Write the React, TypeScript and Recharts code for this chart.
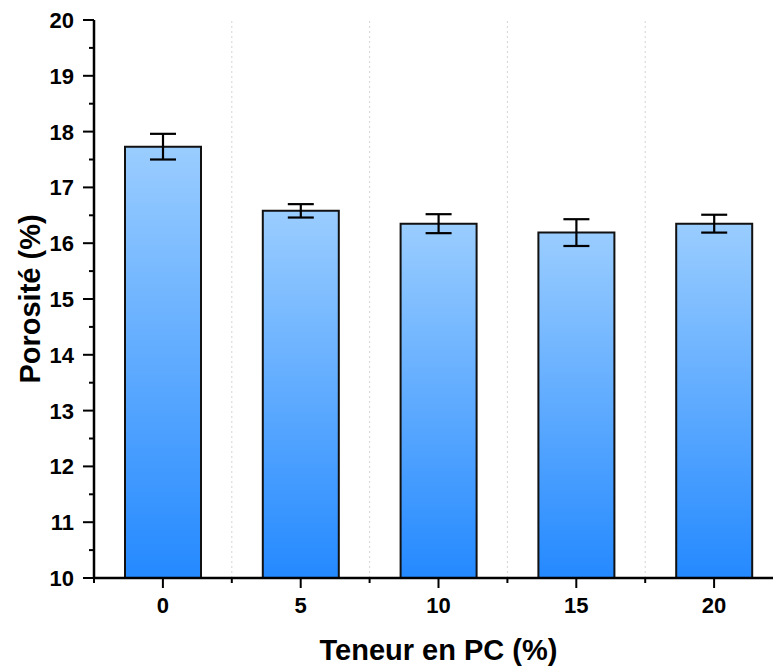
import React from 'react';
import { ComposedChart, Bar, XAxis, YAxis, ErrorBar, ReferenceLine, Label } from 'recharts';

// PC content (%) per sample
const contents = ['0', '5', '10', '15', '20'];
// Measured porosity (%) and its standard deviation
const porosity = [17.73, 16.58, 16.35, 16.19, 16.35];
const porosityErr = [0.23, 0.12, 0.17, 0.24, 0.16];

// Y axis: labelled integer ticks with half-step minor ticks
const yTicks = [10, 10.5, 11, 11.5, 12, 12.5, 13, 13.5, 14, 14.5, 15, 15.5, 16, 16.5, 17, 17.5, 18, 18.5, 19, 19.5, 20];
// X axis: category centres plus the boundaries between categories
const xTicks = [-0.5, 0, 0.5, 1, 1.5, 2, 2.5, 3, 3.5, 4];
const categoryBounds = [0.5, 1.5, 2.5, 3.5];

const rows = contents.map((c, i) => ({
  idx: i,
  content: c,
  porosity: porosity[i],
  err: porosityErr[i],
}));

const FONT = '"Liberation Sans", Arial, Helvetica, sans-serif';

const YTick = (props: any) => {
  const { x, y, payload } = props;
  const v = payload.value as number;
  const major = Number.isInteger(v);
  return (
    <g>
      <line x1={x} x2={x - (major ? 11 : 5)} y1={y} y2={y} stroke="#000" strokeWidth={2} />
      {major && (
        <text
          x={x - 20}
          y={y}
          dy="0.36em"
          textAnchor="end"
          fontFamily={FONT}
          fontWeight="bold"
          fontSize={22}
          fill="#000"
        >
          {v}
        </text>
      )}
    </g>
  );
};

const XTick = (props: any) => {
  const { x, y, payload } = props;
  const v = payload.value as number;
  const major = Number.isInteger(v);
  return (
    <g>
      <line x1={x} x2={x} y1={y} y2={y + (major ? 10 : 5)} stroke="#000" strokeWidth={2} />
      {major && (
        <text
          x={x}
          y={y + 35}
          textAnchor="middle"
          fontFamily={FONT}
          fontWeight="bold"
          fontSize={22}
          fill="#000"
        >
          {contents[v]}
        </text>
      )}
    </g>
  );
};

const YTitle = (props: any) => {
  const { viewBox } = props;
  const cx = viewBox.x + 30;
  const cy = viewBox.y + viewBox.height / 2;
  return (
    <text
      x={cx}
      y={cy}
      transform={`rotate(-90, ${cx}, ${cy})`}
      textAnchor="middle"
      dominantBaseline="central"
      fontFamily={FONT}
      fontWeight="bold"
      fontSize={29}
      fill="#000"
    >
      Porosité (%)
    </text>
  );
};

const XTitle = (props: any) => {
  const { viewBox } = props;
  const cx = viewBox.x + viewBox.width / 2;
  const cy = viewBox.y + 72;
  return (
    <text
      x={cx}
      y={cy}
      textAnchor="middle"
      dominantBaseline="central"
      fontFamily={FONT}
      fontWeight="bold"
      fontSize={29}
      fill="#000"
    >
      Teneur en PC (%)
    </text>
  );
};

export default function App() {
  return (
    <div
      style={{
        position: 'absolute',
        left: 0,
        top: 0,
        width: 773,
        height: 668,
        overflow: 'hidden',
        background: '#fff',
      }}
    >
      <svg width={0} height={0} style={{ position: 'absolute' }}>
        <defs>
          <linearGradient id="barFill" x1="0" y1="0" x2="0" y2="1">
            <stop offset="0" stopColor="#9ACDFF" />
            <stop offset="1" stopColor="#2489FF" />
          </linearGradient>
        </defs>
      </svg>
      <ComposedChart
        width={790}
        height={668}
        data={rows}
        margin={{ top: 20, right: 7, bottom: 0, left: 0 }}
      >
        {categoryBounds.map((b) => (
          <ReferenceLine
            key={b}
            x={b}
            stroke="#d4d4d4"
            strokeWidth={1}
            strokeDasharray="2 3"
          />
        ))}
        <XAxis
          dataKey="idx"
          type="number"
          domain={[-0.5, 4.5]}
          ticks={xTicks}
          allowDecimals
          interval={0}
          height={90}
          tickSize={0}
          tickMargin={0}
          tickLine={false}
          tick={<XTick />}
          axisLine={{ stroke: '#000', strokeWidth: 2.5 }}
        >
          <Label content={<XTitle />} />
        </XAxis>
        <XAxis
          xAxisId="top"
          orientation="top"
          type="number"
          domain={[-0.5, 4.5]}
          height={0}
          tick={false}
          tickLine={false}
          axisLine={{ stroke: '#000', strokeWidth: 2.5 }}
        />
        <YAxis
          type="number"
          domain={[10, 20]}
          ticks={yTicks}
          allowDecimals
          interval={0}
          width={94}
          tickSize={0}
          tickMargin={0}
          tickLine={false}
          tick={<YTick />}
          axisLine={{ stroke: '#000', strokeWidth: 2.5 }}
        >
          <Label content={<YTitle />} />
        </YAxis>
        <Bar
          dataKey="porosity"
          barSize={76}
          fill="url(#barFill)"
          stroke="#111"
          strokeWidth={2}
          isAnimationActive={false}
        >
          <ErrorBar dataKey="err" width={13} stroke="#000" strokeWidth={2.2} direction="y" />
        </Bar>
      </ComposedChart>
    </div>
  );
}
